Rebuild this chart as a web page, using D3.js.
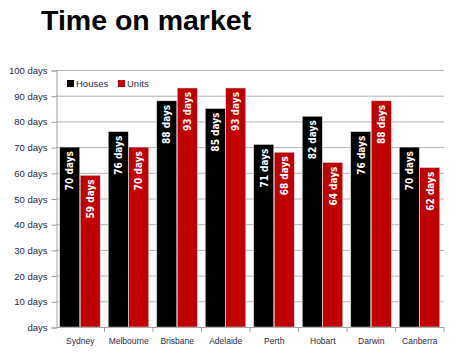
<!DOCTYPE html>
<html>
<head>
<meta charset="utf-8">
<script src="https://cdnjs.cloudflare.com/ajax/libs/d3/7.8.5/d3.min.js"></script>
<style>
  body { margin: 0; background: #fff; }
  svg { display: block; font-family: "Liberation Sans", Arial, sans-serif; }
</style>
</head>
<body>
<svg id="chart" width="470" height="356"></svg>
<script>
// data
var cities = ['Sydney', 'Melbourne', 'Brisbane', 'Adelaide', 'Perth', 'Hobart', 'Darwin', 'Canberra'];
var houses = [70, 76, 88, 85, 71, 82, 76, 70];
var units = [59, 70, 93, 93, 68, 64, 88, 62];
var seriesNames = ['Houses', 'Units'];
var seriesColors = ['#000000', '#c00000'];
var yTicks = [0, 10, 20, 30, 40, 50, 60, 70, 80, 90, 100];

var svg = d3.select('#chart');
var margin = {left: 56, right: 26, top: 70, bottom: 29};
var width = 470, height = 356;
var labelColor = '#1f2a4a';

svg.append('text')
    .attr('x', 41)
    .attr('y', 30)
    .attr('font-size', 28.5)
    .attr('font-weight', 'bold')
    .attr('fill', '#000')
    .text('Time on market');

var x = d3.scaleBand()
    .domain(cities)
    .range([margin.left, width - margin.right])
    .paddingInner(0.155)
    .paddingOuter(0.077);

var x1 = d3.scaleBand()
    .domain(seriesNames)
    .range([0, x.bandwidth()]);

var y = d3.scaleLinear()
    .domain([0, 100])
    .range([height - margin.bottom, margin.top]);

// gridlines
svg.append('g')
    .selectAll('line')
    .data(yTicks.slice(1))
    .enter().append('line')
    .attr('x1', margin.left)
    .attr('x2', width - margin.right)
    .attr('y1', function (d) { return y(d) + 0.5; })
    .attr('y2', function (d) { return y(d) + 0.5; })
    .attr('stroke', '#b4b4b4')
    .attr('stroke-width', 1);

// y axis
var yAxis = d3.axisLeft(y)
    .tickValues(yTicks)
    .tickSize(5)
    .tickPadding(4)
    .tickFormat(function (d) { return d === 0 ? 'days' : d + ' days'; });

var gy = svg.append('g')
    .attr('transform', 'translate(' + (margin.left + 0.5) + ',0.5)')
    .call(yAxis);
gy.select('.domain').attr('stroke', '#a0a0a0');
gy.selectAll('.tick line').attr('stroke', '#a0a0a0');
gy.selectAll('.tick text')
    .attr('font-size', 9.5)
    .attr('fill', labelColor)
    .attr('font-family', '"Liberation Sans", Arial, sans-serif');

// x axis
svg.append('line')
    .attr('x1', margin.left)
    .attr('x2', width - margin.right)
    .attr('y1', y(0) + 0.5)
    .attr('y2', y(0) + 0.5)
    .attr('stroke', '#a0a0a0');

var step = x.step();
svg.append('g')
    .selectAll('line')
    .data(cities)
    .enter().append('line')
    .attr('x1', function (d) { return x(d) + x.bandwidth() + (step - x.bandwidth()) / 2; })
    .attr('x2', function (d) { return x(d) + x.bandwidth() + (step - x.bandwidth()) / 2; })
    .attr('y1', y(0))
    .attr('y2', y(0) + 5)
    .attr('stroke', '#a0a0a0');

svg.append('g')
    .selectAll('text')
    .data(cities)
    .enter().append('text')
    .attr('x', function (d) { return x(d) + x.bandwidth() / 2; })
    .attr('y', y(0) + 17)
    .attr('text-anchor', 'middle')
    .attr('font-size', 8.5)
    .attr('fill', labelColor)
    .text(function (d) { return d; });

// bars
var rows = cities.map(function (c, i) {
    return {city: c, values: [houses[i], units[i]]};
});

var groups = svg.append('g')
    .selectAll('g')
    .data(rows)
    .enter().append('g')
    .attr('transform', function (d) { return 'translate(' + x(d.city) + ',0)'; });

var bars = groups.selectAll('g')
    .data(function (d) {
        return d.values.map(function (v, j) { return {series: seriesNames[j], value: v, idx: j}; });
    })
    .enter().append('g');

bars.append('rect')
    .attr('x', function (d) { return x1(d.series); })
    .attr('y', function (d) { return y(d.value); })
    .attr('width', x1.bandwidth() - 0.5)
    .attr('height', function (d) { return y(0) - y(d.value); })
    .attr('fill', function (d) { return seriesColors[d.idx]; })
    .attr('stroke', '#d8d8d8')
    .attr('stroke-width', 0.5);

// value labels read bottom-to-top, anchored at the bar top
bars.append('text')
    .attr('transform', function (d) {
        var cx = x1(d.series) + x1.bandwidth() / 2;
        return 'translate(' + (cx + 3.5) + ',' + (y(d.value) + 4) + ') rotate(-90)';
    })
    .attr('text-anchor', 'end')
    .attr('font-size', 10)
    .attr('font-weight', 'bold')
    .attr('font-family', '"Liberation Sans Narrow", "DejaVu Sans Condensed", "Liberation Sans", Arial, sans-serif')
    .attr('fill', '#fff')
    .text(function (d) { return d.value + ' days'; });

// legend
var legend = svg.append('g')
    .attr('transform', 'translate(67,80)');
var legX = [0, 51];
seriesNames.forEach(function (s, i) {
    legend.append('rect')
        .attr('x', legX[i])
        .attr('y', 0)
        .attr('width', 7)
        .attr('height', 7)
        .attr('fill', seriesColors[i]);
    legend.append('text')
        .attr('x', legX[i] + 9)
        .attr('y', 7)
        .attr('font-size', 9.5)
        .attr('fill', labelColor)
        .text(s);
});
</script>
</body>
</html>
